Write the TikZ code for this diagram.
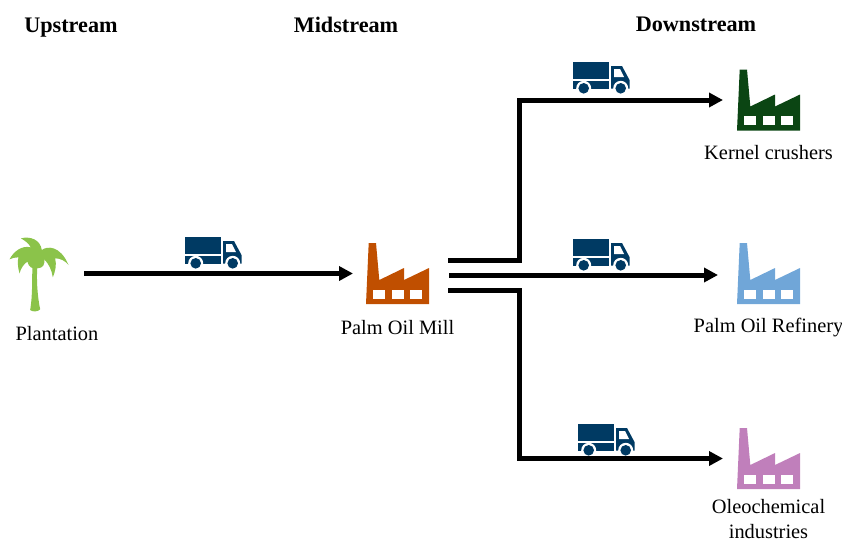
\documentclass[tikz,border=0pt]{standalone}
\usepackage{fontspec}
\setmainfont{Liberation Serif}
\usepackage{xcolor}
\usetikzlibrary{arrows.meta, positioning, calc}
\definecolor{palmgreen}{RGB}{139, 195, 74}
\definecolor{millorange}{RGB}{192, 79, 0}
\definecolor{kernelgreen}{RGB}{11, 69, 19}
\definecolor{refineryblue}{RGB}{112, 166, 216}
\definecolor{oleopurple}{RGB}{192, 127, 187}
\definecolor{truckblue}{RGB}{0, 58, 99}
\tikzset{
    stage/.style={font=\fontsize{22.2}{26}\selectfont\bfseries, anchor=base},
    place/.style={font=\fontsize{20.4}{25}\selectfont, align=center, inner sep=0pt},
    iconbox/.style={minimum width=63pt, minimum height=61pt, inner sep=0pt, outer sep=0pt},
    flow/.style={line width=5pt, -{Triangle[length=14pt, width=14pt]}},
    factory/.pic={
        \fill (-31.5,30.5) -- (-28.8,-30.5) -- (-21.5,-30.5) -- (-18.2,6.5) -- (6.5,-5.5) -- (6.5,6.5)
            -- (31.5,-5.5) -- (31.5,30.5) -- cycle;
        \fill[white] (-25,16) rectangle (-13,25);
        \fill[white] (-6,16) rectangle (6,25);
        \fill[white] (12,16) rectangle (24.5,25);
    },
    truck/.pic={
        \fill[truckblue] (0,0) rectangle (36,16.5);
        \fill[truckblue] (0,18.5) rectangle (36,26.5);
        \fill[truckblue] (38,4) -- (49,4) -- (56.5,18) -- (56.5,26.5) -- (38,26.5) -- cycle;
        \fill[white] (41,7) -- (47,7) -- (51,15) -- (41,15) -- cycle;
        \fill[white] (10.7,26.3) circle (7.5);
        \fill[white] (47.7,26.3) circle (7.5);
        \fill[truckblue] (10.7,26.3) circle (5.3);
        \fill[truckblue] (47.7,26.3) circle (5.3);
    },
    palmtree/.pic={
        \begin{scope}[x=0.3333pt, y=-0.3333pt, shift={(-118,-162)}]
            \fill[palmgreen] (90,270) .. controls (98,220) and (95,180) .. (97,130) -- (112,130)
                .. controls (108,180) and (112,230) .. (120,268) .. controls (112,276) and (98,276) .. (90,270) -- cycle;
            \fill[palmgreen] (62,55) .. controls (90,48) and (120,58) .. (125,90)
                .. controls (140,78) and (180,75) .. (205,135)
                .. controls (195,122) and (180,115) .. (165,115)
                .. controls (170,135) and (165,155) .. (158,172)
                .. controls (155,150) and (145,130) .. (132,118)
                .. controls (135,130) and (130,145) .. (112,145)
                .. controls (95,148) and (85,140) .. (82,125)
                .. controls (72,130) and (62,145) .. (58,160)
                .. controls (52,140) and (52,122) .. (55,112)
                .. controls (45,112) and (35,114) .. (28,118)
                .. controls (40,95) and (65,75) .. (92,82)
                .. controls (85,70) and (75,62) .. (62,55) -- cycle;
        \end{scope}
    }
}

\begin{document}
\begin{tikzpicture}[x=1pt, y=-1pt]
    \useasboundingbox (0,0) rectangle (842,542);

    \node[stage] (upstream) at (71,32) {Upstream};
    \node[stage] (midstream) at (346,32) {Midstream};
    \node[stage] (downstream) at (696,31) {Downstream};

    \node[iconbox, minimum width=59pt, minimum height=74pt] (palm) at (39.5,274) {};
    \node[iconbox] (mill) at (397.5,273.5) {};
    \node[iconbox] (kernel) at (768.5,100) {};
    \node[iconbox] (refinery) at (768.5,273.5) {};
    \node[iconbox] (oleo) at (768.5,458.5) {};

    \pic at (palm) {palmtree};
    \pic[fill=millorange] at (mill) {factory};
    \pic[fill=kernelgreen] at (kernel) {factory};
    \pic[fill=refineryblue] at (refinery) {factory};
    \pic[fill=oleopurple] at (oleo) {factory};

    \node[place] (plantationtext) at (57,334) {Plantation};
    \node[place, below=16pt of mill] (milltext) {Palm Oil Mill};
    \node[place, below=15pt of kernel] (kerneltext) {Kernel crushers};
    \node[place, below=14pt of refinery] (refinerytext) {Palm Oil Refinery};
    \node[place, below=10pt of oleo] (oleotext) {Oleochemical\\industries};

    \pic at (185,237) {truck};
    \pic at (573,62) {truck};
    \pic at (573,239) {truck};
    \pic at (578,424) {truck};

    \coordinate (feedstart) at (84,273.5);
    \coordinate (feedend) at ($(mill.west)+(-13,0)$);
    \coordinate (split) at (519,273);
    \coordinate (outtop) at ($(mill.east)+(19,-13.5)$);
    \coordinate (outmid) at ($(mill.east)+(20,1.5)$);
    \coordinate (outlow) at ($(mill.east)+(19,16.5)$);

    \draw[flow] (feedstart) -- (feedend);
    \draw[flow] (outtop) -- (outtop -| split) -- (split |- kernel) -- ($(kernel.west)+(-14,0)$);
    \draw[flow] (outmid) -- ($(refinery.west |- outmid)+(-19,0)$);
    \draw[flow] (outlow) -- (outlow -| split) -- (split |- oleo) -- ($(oleo.west)+(-14,0)$);
\end{tikzpicture}
\end{document}
